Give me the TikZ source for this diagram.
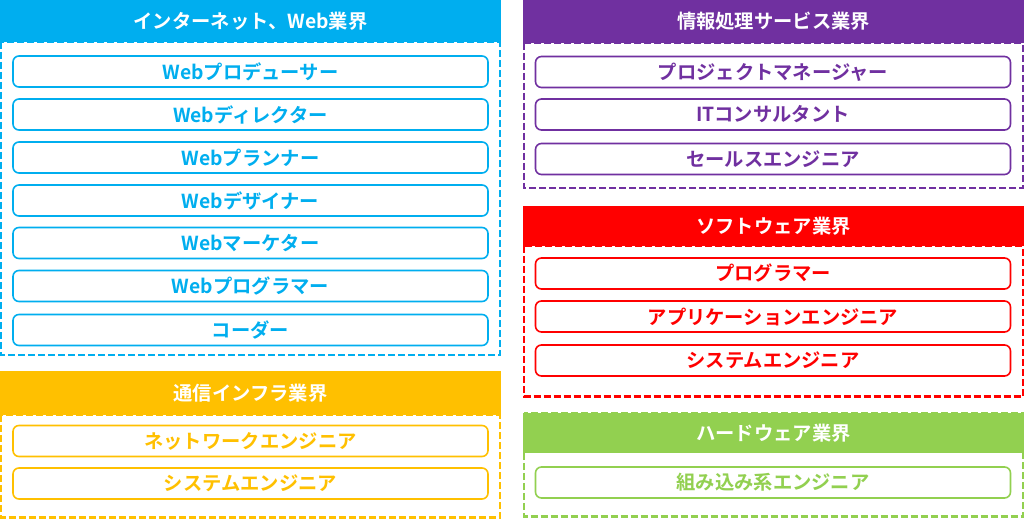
\documentclass[tikz,border=0pt]{standalone}
\usepackage{fontspec}
\newfontfamily\jp{Noto Sans CJK JP}[BoldFont={Noto Sans CJK JP Bold}]
\definecolor{cBlue}{HTML}{00AEEF}
\definecolor{cYellow}{HTML}{FFC000}
\definecolor{cPurple}{HTML}{7030A0}
\definecolor{cRed}{HTML}{FF0000}
\definecolor{cGreen}{HTML}{92D050}
\tikzset{
  frame/.style={draw=#1, line width=2.4bp, dash pattern=on 7bp off 3bp},
  header/.style={fill=#1, draw=none, minimum width=501bp, inner sep=0pt, text=white,
    font=\jp\bfseries\fontsize{19.3bp}{21bp}\selectfont},
  jobbox/.style={draw=#1, line width=1.6bp, rounded corners=6bp, fill=white,
    minimum width=475bp, minimum height=31bp, inner sep=0pt, text=#1,
    font=\jp\bfseries\fontsize{19.3bp}{21bp}\selectfont},
}
\begin{document}
\begin{tikzpicture}[x=1bp,y=-1bp]
\useasboundingbox[fill=white] (0,0) rectangle (1024,519);
% ---- Blue panel
\draw[frame=cBlue] (1.2,42) rectangle (499.8,355);
\node[header=cBlue, minimum height=42bp] (hB) at (250.5,21) {インターネット、Web業界};
\node[jobbox=cBlue] (b1) at (250.5,71.5) {Webプロデューサー};
\node[jobbox=cBlue] (b2) at (250.5,114.5) {Webディレクター};
\node[jobbox=cBlue] (b3) at (250.5,157.5) {Webプランナー};
\node[jobbox=cBlue] (b4) at (250.5,200.5) {Webデザイナー};
\node[jobbox=cBlue] (b5) at (250.5,243) {Webマーケター};
\node[jobbox=cBlue] (b6) at (250.5,286) {Webプログラマー};
\node[jobbox=cBlue] (b7) at (250.5,330) {コーダー};
% ---- Yellow panel
\draw[frame=cYellow] (1.2,415) rectangle (499.8,517.5);
\node[header=cYellow, minimum height=44bp] (hY) at (250.5,393) {通信インフラ業界};
\node[jobbox=cYellow] (y1) at (250.5,441) {ネットワークエンジニア};
\node[jobbox=cYellow] (y2) at (250.5,483.5) {システムエンジニア};
% ---- Purple panel
\draw[frame=cPurple] (524.2,43) rectangle (1022.8,188);
\node[header=cPurple, minimum height=43bp] (hP) at (773.5,21.5) {情報処理サービス業界};
\node[jobbox=cPurple] (p1) at (773,72) {プロジェクトマネージャー};
\node[jobbox=cPurple] (p2) at (773,114.5) {ITコンサルタント};
\node[jobbox=cPurple] (p3) at (773,159) {セールスエンジニア};
% ---- Red panel
\draw[frame=cRed] (524.2,246) rectangle (1022.8,396.5);
\node[header=cRed, minimum height=40bp] (hR) at (773.5,226) {ソフトウェア業界};
\node[jobbox=cRed] (r1) at (773,273.5) {プログラマー};
\node[jobbox=cRed] (r2) at (773,316.5) {アプリケーションエンジニア};
\node[jobbox=cRed] (r3) at (773,360.5) {システムエンジニア};
% ---- Green panel
\draw[frame=cGreen] (524.2,413) rectangle (1022.8,516.5);
\node[header=cGreen, minimum height=40bp] (hG) at (773.5,433) {ハードウェア業界};
\node[jobbox=cGreen] (g1) at (773,482.5) {組み込み系エンジニア};
\end{tikzpicture}
\end{document}
